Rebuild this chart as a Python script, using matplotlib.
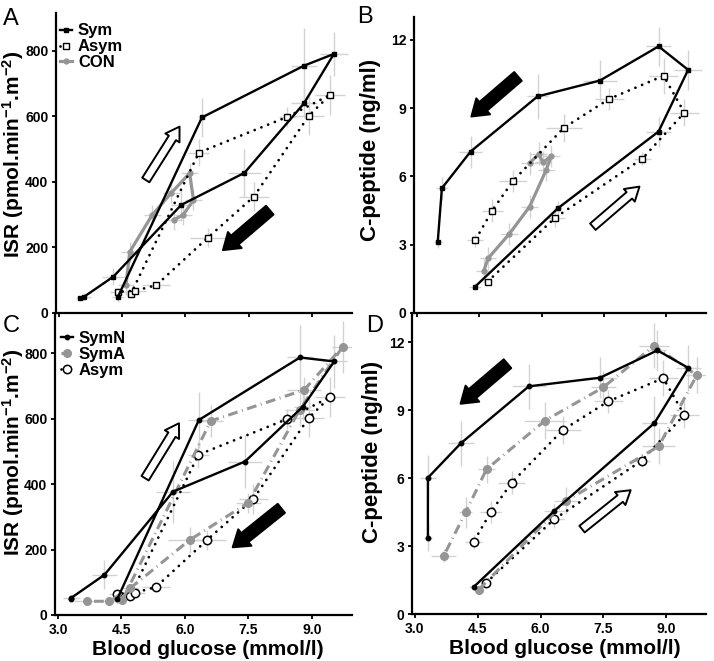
import matplotlib
matplotlib.use("Agg")
import matplotlib.pyplot as plt

plt.rcParams['font.family'] = ['Liberation Sans', 'DejaVu Sans']
plt.rcParams['font.weight'] = 'bold'
plt.rcParams['mathtext.fontset'] = 'custom'
plt.rcParams['mathtext.rm'] = 'Liberation Sans:bold'
plt.rcParams['mathtext.it'] = 'Liberation Sans:bold'
plt.rcParams['mathtext.bf'] = 'Liberation Sans:bold'

# --- data (glucose mmol/l, ISR pmol/min/m2, C-peptide ng/ml) ---
# panels A / B
sym_glc = [4.40, 6.39, 8.81, 9.52, 8.81, 7.40, 5.90, 4.29, 3.60, 3.50]
sym_glc_err = [0.15, 0.10, 0.30, 0.33, 0.30, 0.40, 0.25, 0.28, 0.15, 0.10]
sym_isr = [50, 597, 755, 791, 640, 428, 330, 111, 50, 47]
sym_isr_err = [15, 60, 115, 67, 46, 74, 45, 25, 10, 5]
sym_cpep = [1.16, 4.60, 7.97, 10.68, 11.71, 10.21, 9.51, 7.09, 5.48, 3.10]
sym_cpep_err = [0.10, 0.30, 0.66, 0.88, 0.85, 0.90, 1.00, 0.70, 0.50, 0.25]

asym_glc = [4.70, 6.32, 8.42, 9.43, 8.93, 7.62, 6.53, 5.31, 4.81, 4.40]
asym_glc_err = [0.10, 0.25, 0.20, 0.35, 0.35, 0.35, 0.43, 0.33, 0.25, 0.20]
asym_isr = [57, 490, 599, 666, 603, 355, 230, 85, 68, 65]
asym_isr_err = [12, 40, 30, 60, 60, 45, 30, 10, 10, 10]
asym_cpep = [1.38, 4.18, 6.78, 8.80, 10.42, 9.40, 8.13, 5.80, 4.50, 3.19]
asym_cpep_err = [0.10, 0.40, 0.30, 0.60, 0.80, 0.50, 0.60, 0.50, 0.50, 0.30]

con_glc_a = [4.59, 4.68, 5.21, 5.66, 6.10, 6.19, 5.95, 5.72]
con_isr = [85, 187, 299, 366, 427, 345, 300, 284]
con_glc_b = [4.61, 4.71, 5.22, 5.71, 6.11, 6.23, 6.03, 5.93, 5.71]
con_cpep = [1.86, 2.40, 3.47, 4.67, 6.29, 6.90, 6.61, 6.99, 6.58]

# panels C / D
symn_glc = [4.40, 6.33, 8.72, 9.53, 8.79, 7.42, 5.72, 4.10, 3.31, 3.31]
symn_glc_err = [0.10, 0.25, 0.30, 0.30, 0.20, 0.40, 0.40, 0.30, 0.20, 0.10]
symn_isr = [48, 596, 787, 775, 637, 469, 377, 123, 52, 50]
symn_isr_err = [15, 85, 100, 80, 40, 80, 95, 45, 8, 8]
symn_cpep = [1.19, 4.56, 8.44, 10.87, 11.65, 10.44, 10.06, 7.55, 6.02, 3.38]
symn_cpep_err = [0.10, 0.30, 1.20, 1.00, 0.90, 0.90, 1.00, 1.00, 1.00, 0.60]

syma_glc = [4.52, 6.61, 8.82, 9.73, 8.71, 7.50, 6.11, 4.71, 4.21, 3.69]
syma_glc_err = [0.10, 0.30, 0.40, 0.25, 0.35, 0.30, 0.50, 0.20, 0.15, 0.30]
syma_isr = [45, 593, 688, 820, 627, 343, 229, 82, 42, 42]
syma_isr_err = [10, 50, 40, 80, 50, 30, 40, 10, 5, 5]
syma_cpep = [1.07, 5.00, 7.41, 10.55, 11.85, 10.02, 8.55, 6.40, 4.49, 2.58]
syma_cpep_err = [0.10, 0.60, 0.80, 0.80, 1.00, 0.70, 0.80, 0.60, 0.70, 0.30]

glc_ticks = [3.0, 4.5, 6.0, 7.5, 9.0]
isr_ticks = [0, 200, 400, 600, 800]
cpep_ticks = [0, 3, 6, 9, 12]

GRAY = '#959595'
ERR = '#d2d2d2'

W, H = 714, 661


def box(l, t, r, b):
    return [l / W, 1 - b / H, (r - l) / W, (b - t) / H]


def series(ax, x, y, xe, ye, **kw):
    if xe is not None:
        ax.errorbar(x, y, xerr=xe, yerr=ye, fmt='none', ecolor=ERR,
                    elinewidth=1.0, capsize=0, zorder=1)
    return ax.plot(x, y, zorder=3, **kw)[0]


def arrow(ax, tail, head, filled):
    if filled:
        style = 'simple,head_length=0.7,head_width=0.95,tail_width=0.52'
        fc = 'black'
    else:
        style = 'simple,head_length=0.6,head_width=0.75,tail_width=0.38'
        fc = 'white'
    ax.annotate('', xy=head, xytext=tail,
                arrowprops=dict(arrowstyle=style, fc=fc, ec='black', lw=1.4,
                                shrinkA=0, shrinkB=0, mutation_scale=16),
                zorder=4)


def style_axes(ax, ylim, yticks, show_x):
    for s in ['top', 'right']:
        ax.spines[s].set_visible(False)
    for s in ['left', 'bottom']:
        ax.spines[s].set_linewidth(1.6)
    ax.set_xlim(2.93, 9.95)
    ax.set_ylim(*ylim)
    ax.set_xticks(glc_ticks)
    ax.set_yticks(yticks)
    ax.tick_params(direction='out', length=3, width=1.3, labelsize=10, pad=2.5)
    if show_x:
        ax.set_xticklabels([f'{t:.1f}' for t in glc_ticks], fontweight='bold')
        ax.set_xlabel('Blood glucose (mmol/l)', fontsize=15, fontweight='bold')
    else:
        ax.set_xticklabels([])
    ax.set_yticklabels([str(t) for t in yticks], fontweight='bold')
    ax.patch.set_alpha(0)


sym_kw = dict(color='black', lw=1.7, marker='s', ms=3.2)
asym_sq_kw = dict(color='black', lw=2.0, ls=(0, (0.01, 2.6)), dash_capstyle='round',
                  marker='s', ms=5, mfc='white', mec='black', mew=1.0)
con_kw = dict(color=GRAY, lw=2.3, marker='o', ms=3.5)
symn_kw = dict(color='black', lw=1.7, marker='o', ms=3.2)
syma_kw = dict(color=GRAY, lw=2.2, ls=(0, (3.2, 1.5, 0.3, 1.5)), marker='o', ms=5.5)
asym_ci_kw = dict(color='black', lw=2.0, ls=(0, (0.01, 2.6)), dash_capstyle='round',
                  marker='o', ms=6, mfc='white', mec='black', mew=1.1)

fig = plt.figure(figsize=(W / 100, H / 100), dpi=100)
axA = fig.add_axes(box(56, 13, 352, 313))
axB = fig.add_axes(box(414, 17, 706, 313))
axC = fig.add_axes(box(55, 313, 352, 615))
axD = fig.add_axes(box(412, 313, 706, 614))

# A: ISR, Sym / Asym / CON
lc = series(axA, con_glc_a, con_isr, [0.2] * len(con_isr), [30] * len(con_isr), **con_kw)
la = series(axA, asym_glc, asym_isr, asym_glc_err, asym_isr_err, **asym_sq_kw)
ls_ = series(axA, sym_glc, sym_isr, sym_glc_err, sym_isr_err, **sym_kw)
arrow(axA, (5.06, 406), (5.86, 569), False)
arrow(axA, (8.0, 314), (6.89, 192), True)
style_axes(axA, (0, 916), isr_ticks, False)
axA.legend([ls_, la, lc], ['Sym', 'Asym', 'CON'], loc='upper left',
           bbox_to_anchor=(0.015, 0.965), frameon=False, handlelength=0.7,
           handletextpad=0.35, labelspacing=0.05, borderaxespad=0, borderpad=0,
           prop={'weight': 'bold', 'size': 12})
axA.set_ylabel('ISR (pmol.min$^{-1}$.m$^{-2}$)', fontsize=15, fontweight='bold')
axA.yaxis.set_label_coords(-0.10, 0.53)

# B: C-peptide, Sym / Asym / CON
series(axB, con_glc_b, con_cpep, [0.2] * len(con_cpep), [0.5] * len(con_cpep), **con_kw)
series(axB, asym_glc, asym_cpep, asym_glc_err, asym_cpep_err, **asym_sq_kw)
series(axB, sym_glc, sym_cpep, sym_glc_err, sym_cpep_err, **sym_kw)
arrow(axB, (5.43, 10.39), (4.31, 8.63), True)
arrow(axB, (7.23, 3.79), (8.35, 5.55), False)
style_axes(axB, (0, 13.0), cpep_ticks, False)
axB.set_ylabel('C-peptide (ng/ml)', fontsize=16, fontweight='bold')
axB.yaxis.set_label_coords(-0.113, 0.55)

# C: ISR, SymN / SymA / Asym
lac = series(axC, asym_glc, asym_isr, asym_glc_err, asym_isr_err, **asym_ci_kw)
lsa = series(axC, syma_glc, syma_isr, syma_glc_err, syma_isr_err, **syma_kw)
lsn = series(axC, symn_glc, symn_isr, symn_glc_err, symn_isr_err, **symn_kw)
arrow(axC, (5.06, 418), (5.86, 586), False)
arrow(axC, (8.28, 326), (7.13, 207), True)
style_axes(axC, (0, 923), isr_ticks, True)
axC.legend([lsn, lsa, lac], ['SymN', 'SymA', 'Asym'], loc='upper left',
           bbox_to_anchor=(0.02, 0.94), frameon=False, handlelength=0.7,
           handletextpad=0.35, labelspacing=0.05, borderaxespad=0, borderpad=0,
           prop={'weight': 'bold', 'size': 12})
axC.set_ylabel('ISR (pmol.min$^{-1}$.m$^{-2}$)', fontsize=15, fontweight='bold')
axC.yaxis.set_label_coords(-0.098, 0.54)
axC.xaxis.set_label_coords(0.515, -0.083)

# D: C-peptide, SymN / SymA / Asym
series(axD, asym_glc, asym_cpep, asym_glc_err, asym_cpep_err, **asym_ci_kw)
series(axD, syma_glc, syma_cpep, syma_glc_err, syma_cpep_err, **syma_kw)
series(axD, symn_glc, symn_cpep, symn_glc_err, symn_cpep_err, **symn_kw)
arrow(axD, (5.21, 11.06), (4.09, 9.29), True)
arrow(axD, (6.99, 3.75), (8.15, 5.47), False)
style_axes(axD, (0, 13.3), cpep_ticks, True)
axD.set_ylabel('C-peptide (ng/ml)', fontsize=16, fontweight='bold')
axD.yaxis.set_label_coords(-0.10, 0.54)
axD.xaxis.set_label_coords(0.52, -0.083)

for lab, (px, py) in zip('ABCD', [(3, 25), (357, 23), (3, 332), (366, 332)]):
    fig.text(px / W, 1 - py / H, lab, fontsize=17, fontweight='normal',
             ha='left', va='baseline')

fig.savefig('out.png', dpi=100)
